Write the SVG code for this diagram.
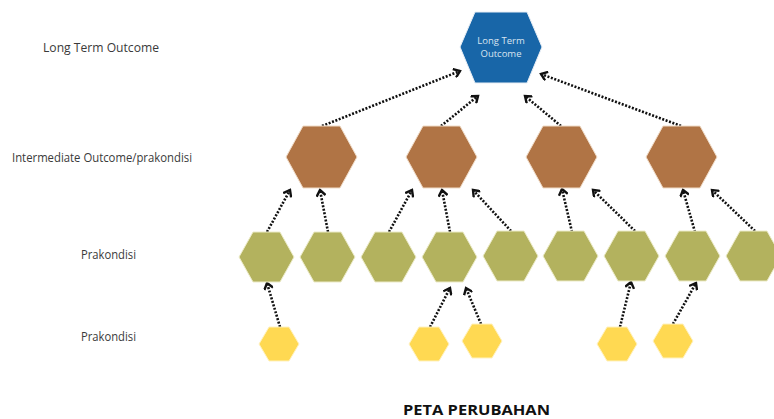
<svg xmlns="http://www.w3.org/2000/svg" width="774" height="419" viewBox="0 0 774 419">
<style>
.lbl{font-family:"Open Sans","Liberation Sans",sans-serif;font-size:12.5px;fill:#3a3a3a}
.title{font-family:"Open Sans","Liberation Sans",sans-serif;font-size:14px;font-weight:bold;fill:#111}
.inner{font-family:"Open Sans","Liberation Sans",sans-serif;font-size:9.5px;fill:#d8e4f0;text-anchor:middle}
.blue{fill:#1866a8;stroke:#e8eef5;stroke-width:1}
.brown{fill:#b07445;stroke:#f0dcc8;stroke-width:1}
.green{fill:#b3b25e;stroke:#ecebc8;stroke-width:1}
.yellow{fill:#ffd952;stroke:#fff2c0;stroke-width:1}
.con{fill:none;stroke:#111;stroke-width:2.6;stroke-dasharray:2 1.6;marker-end:url(#ah)}
</style>
<defs>
<marker id="ah" markerWidth="10" markerHeight="10" refX="7" refY="5" orient="auto" markerUnits="userSpaceOnUse">
<path d="M2,1.2 L7,5 L2,8.8" fill="none" stroke="#111" stroke-width="2.4" stroke-linecap="square"/>
</marker>
</defs>
<rect width="774" height="419" fill="#fff"/>
<g id="labels">
<text class="lbl" x="43" y="52" textLength="116" lengthAdjust="spacingAndGlyphs">Long Term Outcome</text>
<text class="lbl" x="12" y="162" textLength="180" lengthAdjust="spacingAndGlyphs">Intermediate Outcome/prakondisi</text>
<text class="lbl" x="81" y="259" textLength="55" lengthAdjust="spacingAndGlyphs">Prakondisi</text>
<text class="lbl" x="81" y="341" textLength="55" lengthAdjust="spacingAndGlyphs">Prakondisi</text>
<text class="title" x="403" y="415" textLength="147" lengthAdjust="spacingAndGlyphs">PETA PERUBAHAN</text>
</g>
<g id="connectors">
<line class="con" x1="322" y1="126" x2="460" y2="71"/>
<line class="con" x1="441" y1="126" x2="478" y2="96"/>
<line class="con" x1="561" y1="126" x2="525" y2="96"/>
<line class="con" x1="681" y1="126" x2="541" y2="74"/>
<line class="con" x1="267" y1="232" x2="290" y2="190"/>
<line class="con" x1="328" y1="232" x2="320" y2="190"/>
<line class="con" x1="389" y1="232" x2="412" y2="190"/>
<line class="con" x1="450" y1="232" x2="442" y2="190"/>
<line class="con" x1="511" y1="231" x2="473" y2="190"/>
<line class="con" x1="572" y1="232" x2="562" y2="189"/>
<line class="con" x1="635" y1="231" x2="593" y2="190"/>
<line class="con" x1="695" y1="232" x2="683" y2="190"/>
<line class="con" x1="755" y1="231" x2="712" y2="190"/>
<line class="con" x1="280" y1="327" x2="267" y2="283"/>
<line class="con" x1="430" y1="327" x2="450" y2="288"/>
<line class="con" x1="481" y1="324" x2="466" y2="288"/>
<line class="con" x1="620" y1="327" x2="631" y2="282"/>
<line class="con" x1="673" y1="324" x2="696" y2="283"/>
</g>
<g id="n-longterm">
<polygon class="blue" points="460,47 475,12 527,12 542,47 527,83 475,83"/>
<text class="inner" x="501" y="44">Long Term</text>
<text class="inner" x="501" y="57">Outcome</text>
</g>
<g id="n-io1"><polygon class="brown" points="286,157 303,126 340,126 357,157 340,188 303,188"/></g>
<g id="n-io2"><polygon class="brown" points="406,157 423,126 460,126 477,157 460,188 423,188"/></g>
<g id="n-io3"><polygon class="brown" points="526,157 543,126 580,126 597,157 580,188 543,188"/></g>
<g id="n-io4"><polygon class="brown" points="646,157 663,126 700,126 717,157 700,188 663,188"/></g>
<g id="n-p1"><polygon class="green" points="239,257 253,232 280,232 294,257 280,282 253,282"/></g>
<g id="n-p2"><polygon class="green" points="300,257 314,232 341,232 355,257 341,282 314,282"/></g>
<g id="n-p3"><polygon class="green" points="361,257 375,232 402,232 416,257 402,282 375,282"/></g>
<g id="n-p4"><polygon class="green" points="422,257 436,232 463,232 477,257 463,282 436,282"/></g>
<g id="n-p5"><polygon class="green" points="483,256 497,231 524,231 538,256 524,281 497,281"/></g>
<g id="n-p6"><polygon class="green" points="543,256 557,231 584,231 598,256 584,281 557,281"/></g>
<g id="n-p7"><polygon class="green" points="604,256 618,231 645,231 659,256 645,281 618,281"/></g>
<g id="n-p8"><polygon class="green" points="665,256 679,231 706,231 720,256 706,281 679,281"/></g>
<g id="n-p9"><polygon class="green" points="726,256 740,231 767,231 781,256 767,281 740,281"/></g>
<g id="n-y1"><polygon class="yellow" points="259,344 269,327 289,327 299,344 289,361 269,361"/></g>
<g id="n-y2"><polygon class="yellow" points="409,344 419,327 439,327 449,344 439,361 419,361"/></g>
<g id="n-y3"><polygon class="yellow" points="462,341 472,324 492,324 502,341 492,358 472,358"/></g>
<g id="n-y4"><polygon class="yellow" points="597,344 607,327 627,327 637,344 627,361 607,361"/></g>
<g id="n-y5"><polygon class="yellow" points="653,341 663,324 683,324 693,341 683,358 663,358"/></g>
</svg>
